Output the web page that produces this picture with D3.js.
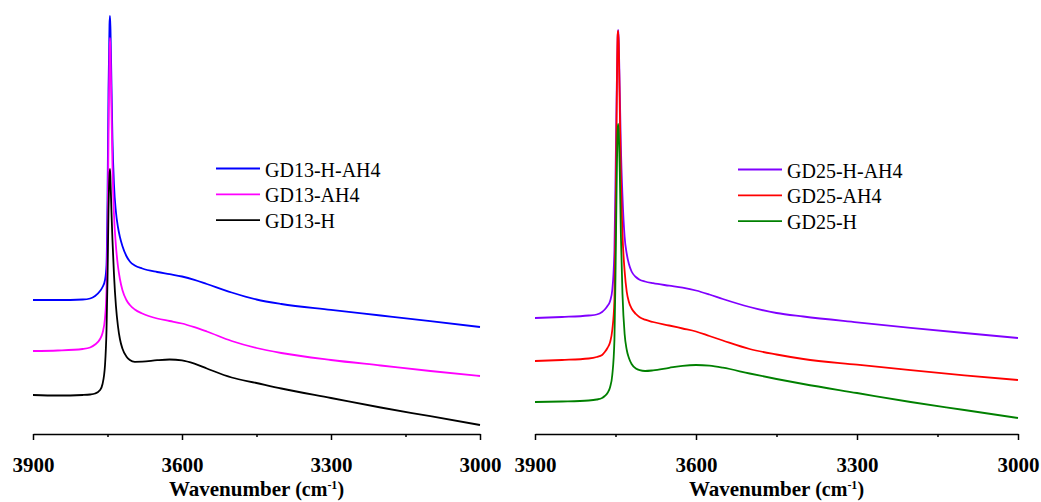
<!DOCTYPE html>
<html>
<head>
<meta charset="utf-8">
<script src="https://cdn.jsdelivr.net/npm/d3@7"></script>
<style>
  html, body { margin: 0; padding: 0; background: #fff; }
  svg { display: block; }
  svg text { font-family: "Liberation Serif", "Times New Roman", Times, serif !important; }
</style>
</head>
<body>
<svg id="chart" width="1041" height="502"></svg>
<script>
// ---------- DATA (absorbance, arbitrary units) ----------
const wnLeft = [3900, 3850, 3800, 3785, 3775, 3765, 3760, 3755, 3752, 3750, 3748, 3746, 3745, 3744, 3742, 3740, 3737, 3733, 3729, 3725, 3720, 3712, 3705, 3695, 3680, 3650, 3625, 3600, 3575, 3550, 3500, 3450, 3400, 3300, 3200, 3100, 3000];
const gd13HAH4 = [134, 134, 134.5, 135.5, 138, 143, 147, 154, 169, 234, 344, 409, 418, 405, 350, 295, 250, 222, 207, 197, 188, 178, 172.5, 168.5, 165.5, 162, 159.8, 157.5, 154.2, 150, 141.5, 134.5, 130, 124.2, 118.5, 112.8, 107];
const gd13AH4 = [83, 83.5, 85, 86.5, 89.5, 95, 101, 116, 144, 194, 294, 379, 396, 382, 325, 268, 220, 188, 168, 155, 144, 134, 129, 124.5, 120.5, 115.5, 113, 110.5, 106.8, 102.5, 93, 86, 81, 74, 68.5, 63, 58];
const gd13H = [39, 38.5, 39, 39.5, 40.5, 44, 50, 69, 104, 154, 224, 259, 265, 254, 222, 194, 160, 128, 108, 95, 85.5, 77.5, 74, 72.2, 72.3, 73.8, 74.5, 73.6, 70.3, 65.5, 56.5, 51, 45.5, 36, 26.5, 17.8, 9];

const wnRight = [3900, 3850, 3800, 3785, 3775, 3770, 3765, 3760, 3756, 3752, 3750, 3748, 3746, 3745, 3744, 3742, 3740, 3737, 3733, 3729, 3725, 3720, 3712, 3705, 3695, 3680, 3650, 3625, 3600, 3575, 3550, 3500, 3450, 3400, 3300, 3200, 3100, 3000];
const gd25HAH4 = [116, 117, 118.5, 119.5, 122, 124.5, 128, 133, 144, 184, 254, 334, 396, 404, 394, 342, 288, 238, 197, 180, 170, 162.5, 157, 154.3, 152.5, 150.8, 148.3, 146.3, 143.5, 139.5, 135, 127, 121, 117.5, 111.7, 106.2, 101, 96];
const gd25AH4 = [73, 74, 75.5, 77, 79, 82, 86, 92, 104, 134, 204, 314, 399, 403, 390, 325, 258, 200, 163, 142, 132, 125.5, 120, 116.8, 114.3, 112, 108.5, 105.5, 102.5, 98, 93.5, 85, 79.5, 75, 69.3, 63.8, 58.7, 54];
const gd25H = [32, 32.5, 33.5, 34.5, 36, 38, 41, 47, 59, 94, 159, 244, 304, 310, 302, 262, 200, 140, 100, 84, 76, 70, 65.5, 63.8, 63, 63.6, 66.2, 68.2, 69, 68.3, 66.3, 60.5, 55, 50, 41, 32, 24, 16];

const majorTicks = [3900, 3600, 3300, 3000];
const minorTicks = [3750, 3450, 3150];
const leftNames = ["GD13-H-AH4", "GD13-AH4", "GD13-H"];
const rightNames = ["GD25-H-AH4", "GD25-AH4", "GD25-H"];
const leftColors = ["#0000ff", "#ff00ff", "#000000"];
const rightColors = ["#8000ff", "#ff0000", "#008000"];

// ---------- LAYOUT ----------
const svg = d3.select("#chart");
const axisY = 434;
const y = d3.scaleLinear().domain([0, 434]).range([axisY, 0]);
const serif = '"Liberation Serif", "Times New Roman", Times, serif';

const panels = [
  { wn: wnLeft, series: [gd13HAH4, gd13AH4, gd13H], names: leftNames, colors: leftColors,
    x0: 33, x1: 480, legX: 216, legY: 168.5 },
  { wn: wnRight, series: [gd25HAH4, gd25AH4, gd25H], names: rightNames, colors: rightColors,
    x0: 535, x1: 1018, legX: 738, legY: 169.5 }
];

panels.forEach(p => {
  const x = d3.scaleLinear().domain([3900, 3000]).range([p.x0, p.x1]);
  const g = svg.append("g");

  // curves
  p.series.forEach((vals, i) => {
    const pts = p.wn.map((w, k) => [w, vals[k]]);
    const line = d3.line().x(d => x(d[0])).y(d => y(d[1])).curve(d3.curveMonotoneX);
    g.append("path")
      .attr("d", line(pts))
      .attr("fill", "none")
      .attr("stroke", p.colors[i])
      .attr("stroke-width", 1.8)
      .attr("stroke-linejoin", "round");
  });

  // minor ticks
  const minorAxis = d3.axisBottom(x).tickValues(minorTicks).tickSize(3).tickFormat("");
  g.append("g").attr("transform", `translate(0,${axisY})`).call(minorAxis)
    .call(s => s.select(".domain").remove())
    .call(s => s.selectAll("line").attr("stroke", "#000").attr("stroke-width", 1.5));

  // major axis
  const axis = d3.axisBottom(x).tickValues(majorTicks).tickSize(6).tickSizeOuter(0)
    .tickPadding(17).tickFormat(d3.format("d"));
  const ax = g.append("g").attr("transform", `translate(0,${axisY})`).call(axis);
  ax.attr("font-family", null);
  ax.select(".domain").attr("stroke", "#000").attr("stroke-width", 1.5);
  ax.selectAll("line").attr("stroke", "#000").attr("stroke-width", 1.5);
  ax.selectAll("text")
    .style("font-family", serif)
    .style("font-size", "21px")
    .style("font-weight", "bold")
    .attr("fill", "#000");

  // axis title
  const t = g.append("text")
    .attr("x", (p.x0 + p.x1) / 2)
    .attr("y", 496)
    .attr("text-anchor", "middle")
    .style("font-family", serif)
    .style("font-weight", "bold")
    .attr("fill", "#000");
  t.append("tspan").style("font-size", "21px").text("Wavenumber ");
  t.append("tspan").style("font-size", "20px").text("(cm");
  t.append("tspan").style("font-size", "12px").attr("dy", -7).text("-1");
  t.append("tspan").style("font-size", "20px").attr("dy", 7).text(")");

  // legend
  const leg = g.append("g");
  p.names.forEach((n, i) => {
    const ly = p.legY + i * 25.8;
    leg.append("line")
      .attr("x1", p.legX).attr("x2", p.legX + 44)
      .attr("y1", ly).attr("y2", ly)
      .attr("stroke", p.colors[i]).attr("stroke-width", 1.8);
    leg.append("text")
      .attr("x", p.legX + 49)
      .attr("y", ly + 8)
      .style("font-family", serif)
      .style("font-size", "20px")
      .attr("fill", "#000")
      .text(n);
  });
});
</script>
</body>
</html>
